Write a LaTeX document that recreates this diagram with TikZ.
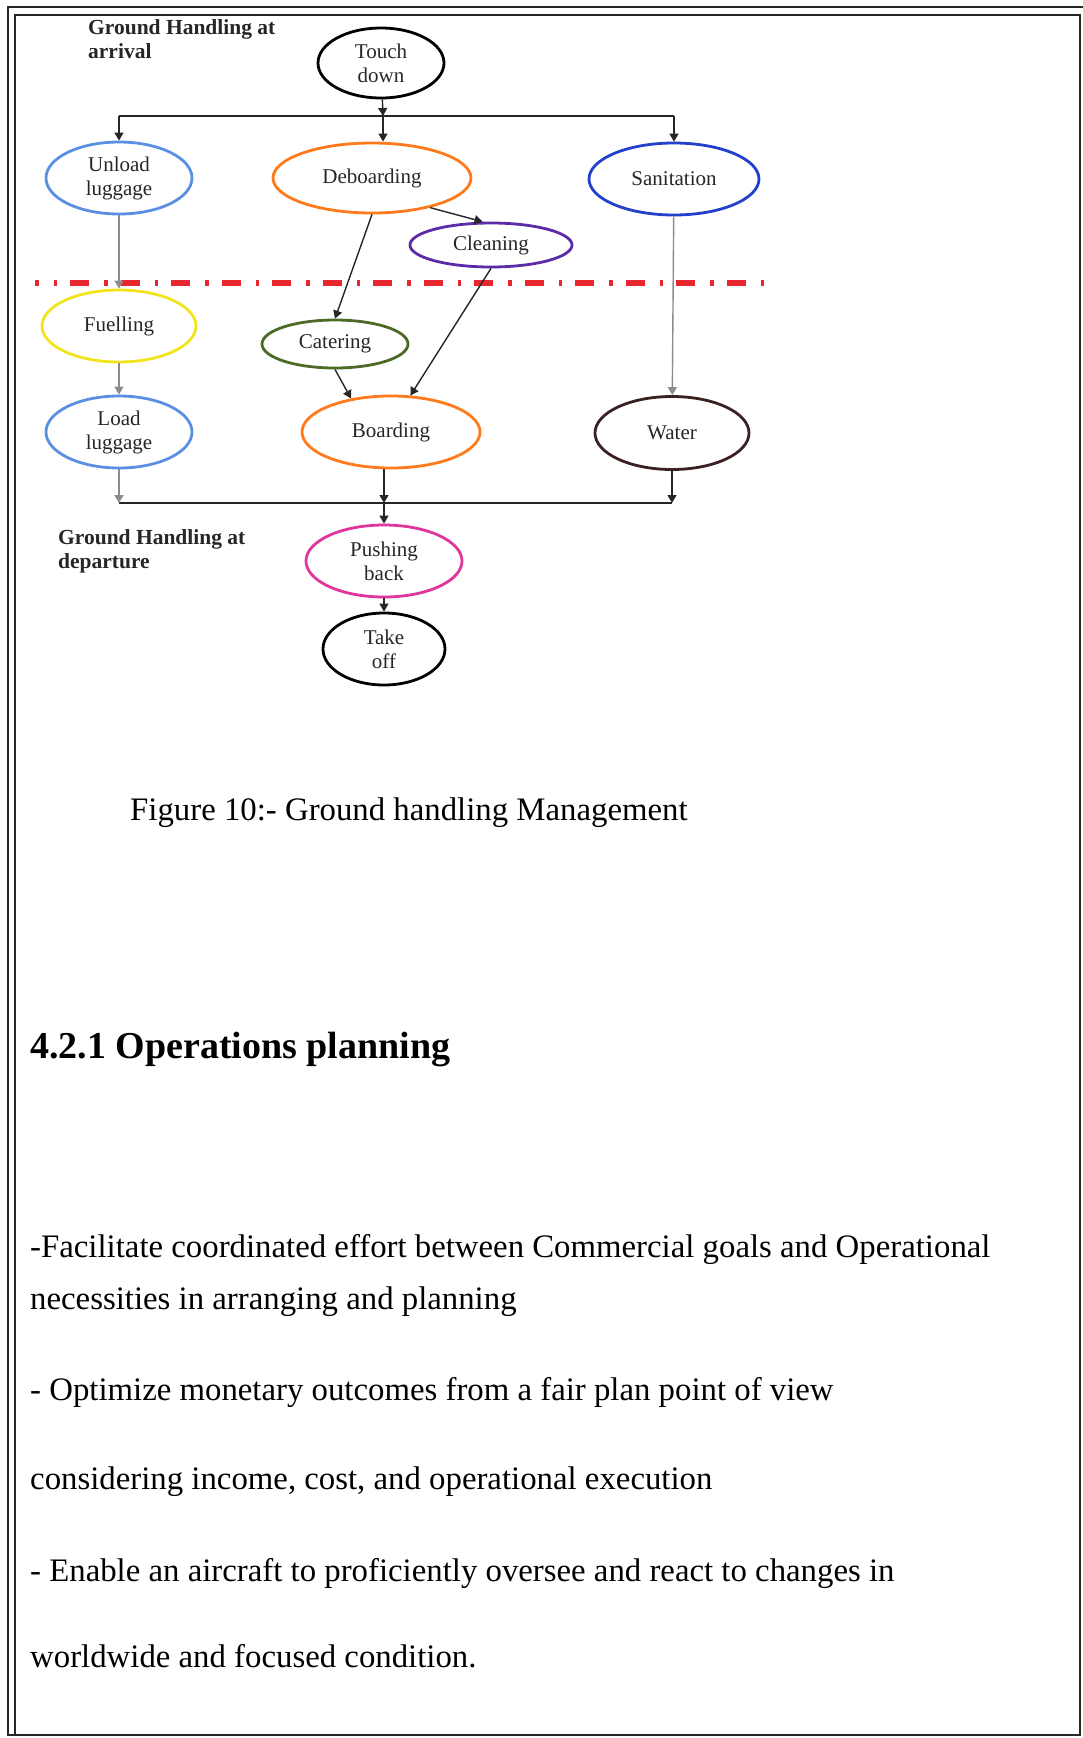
\documentclass[tikz,border=0pt]{standalone}
\usepackage{fontspec}
\setmainfont{Liberation Serif}
\usetikzlibrary{shapes.geometric,arrows.meta}
\definecolor{ublue}{HTML}{5B8FE3}
\definecolor{orng}{HTML}{FF7A1A}
\definecolor{sblue}{HTML}{2340CC}
\definecolor{purp}{HTML}{5B2BA8}
\definecolor{yell}{HTML}{F2E41C}
\definecolor{olv}{HTML}{4E6A26}
\definecolor{brwn}{HTML}{3A2222}
\definecolor{mag}{HTML}{E0359C}
\definecolor{dred}{HTML}{E8262E}
\begin{document}
\begin{tikzpicture}[x=1pt,y=-1pt,
  ell/.style={ellipse, draw, line width=2.8pt, inner sep=0pt, align=center,
    font=\fontsize{21}{24}\selectfont, text=black!85},
  arr/.style={line width=1.4pt, draw=black!85, -{Triangle[width=9pt,length=8pt]}},
  garr/.style={arr, draw=black!45},
  plain/.style={line width=1.4pt, draw=black!85},
  lab/.style={inner sep=0pt, align=left, font=\fontsize{21.5}{24}\selectfont\bfseries, text=black!85},
  body/.style={inner sep=0pt, anchor=base west, font=\fontsize{32.8}{38}\selectfont},
  frame/.style={line width=2pt, draw=black!85}
]
\useasboundingbox (0,0) rectangle (1083,1738);

% page frame
\draw[frame] (8,1736) -- (8,7) -- (1083,7);
\draw[frame] (15,1736) -- (15,15) -- (1080,15) -- (1080,1736);
\draw[frame] (8,1735) -- (1080,1735);

% labels
\node[lab, anchor=north west] (lblarr) at (88,19) {Ground Handling at\\arrival};
\node[lab, anchor=north west] (lbldep) at (58,529) {Ground Handling at\\departure};

% nodes
\node[ell, draw=black, minimum width=126, minimum height=70] (td) at (381,63) {Touch\\down};
\node[ell, draw=ublue, minimum width=146, minimum height=72] (unl) at (119,178) {Unload\\luggage};
\node[ell, draw=orng, minimum width=198, minimum height=70] (deb) at (372,178) {Deboarding};
\node[ell, draw=sblue, minimum width=170, minimum height=72] (san) at (674,179) {Sanitation};
\node[ell, draw=purp, minimum width=162, minimum height=44] (cln) at (491,245) {Cleaning};
\node[ell, draw=yell, minimum width=154, minimum height=72] (fuel) at (119,326) {Fuelling};
\node[ell, draw=olv, minimum width=146, minimum height=48] (cat) at (335,344) {Catering};
\node[ell, draw=ublue, minimum width=146, minimum height=72] (load) at (119,432) {Load\\luggage};
\node[ell, draw=orng, minimum width=178, minimum height=72] (brd) at (391,432) {Boarding};
\node[ell, draw=brwn, minimum width=154, minimum height=73] (wat) at (672,433) {Water};
\node[ell, draw=mag, minimum width=156, minimum height=72] (push) at (384,561) {Pushing\\back};
\node[ell, draw=black, minimum width=122, minimum height=72] (take) at (384,649) {Take\\off};

% red separator
\draw[dred, line width=6pt, dash pattern=on 19pt off 15pt on 3.5pt off 13pt, dash phase=15.5pt]
  (35,283) coordinate (sepa) -- (764,283) coordinate (sepb);

% connectors
\coordinate (split) at (383,116);
\draw[arr] (td) -- (split);
\draw[plain] (unl.north |- split) -- (san.north |- split);
\draw[arr] (unl.north |- split) -- (unl.north);
\draw[arr] (split) -- (split |- deb.north);
\draw[arr] (san.north |- split) -- (san.north);

\draw[arr] (deb.-27) -- (cln.110);
\draw[arr] (deb.south) -- (cat.north);
\draw[arr] (cat.south) -- (brd.140);
\draw[arr] (cln.south) -- (brd.62);

\draw[garr] (unl) -- (fuel);
\draw[garr] (fuel) -- (load);
\draw[garr] (san) -- (wat);

\coordinate (merge) at (384,503);
\draw[plain] (load.south |- merge) -- (wat.south |- merge);
\draw[garr] (load) -- (load.south |- merge);
\draw[arr] (merge |- brd.south) -- (merge);
\draw[arr] (wat) -- (wat.south |- merge);
\draw[arr] (merge) -- (push);
\draw[arr] (push) -- (take);

% caption and text
\node[body] (cap) at (130,820) {Figure 10:- Ground handling Management};
\node[inner sep=0pt, anchor=base west, font=\fontsize{38}{44}\selectfont\bfseries] (hd) at (30,1058) {4.2.1 Operations planning};
\node[body] (t1) at (30,1257) {-Facilitate coordinated effort between Commercial goals and Operational};
\node[body] (t2) at (30,1309) {necessities in arranging and planning};
\node[body] (t3) at (30,1400) {- Optimize monetary outcomes from a fair plan point of view};
\node[body] (t4) at (30,1489) {considering income, cost, and operational execution};
\node[body] (t5) at (30,1581) {- Enable an aircraft to proficiently oversee and react to changes in};
\node[body] (t6) at (30,1667) {worldwide and focused condition.};
\end{tikzpicture}
\end{document}
